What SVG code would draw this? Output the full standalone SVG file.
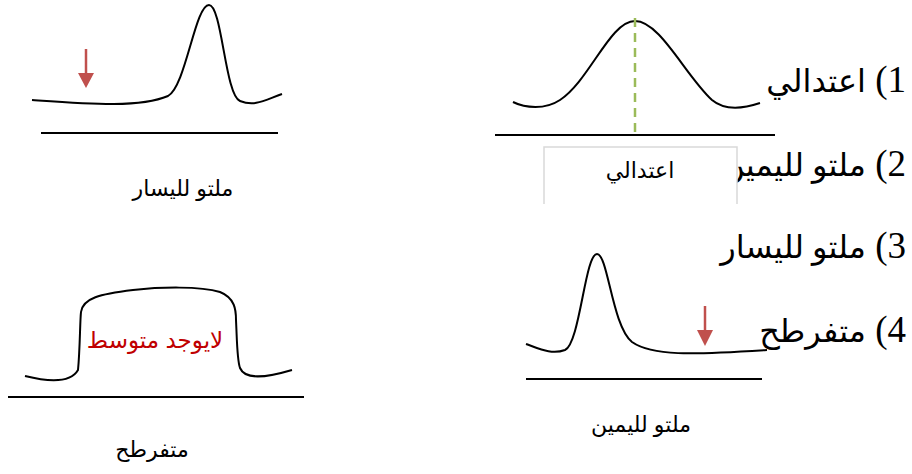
<svg xmlns="http://www.w3.org/2000/svg" width="912" height="474" viewBox="0 0 912 474">
<style>
.curve{fill:none;stroke:#000;stroke-width:2}
.axis{fill:none;stroke:#000;stroke-width:2}
.lbl{font-family:"Liberation Sans","DejaVu Sans",sans-serif;font-size:22px;fill:#000;text-anchor:middle}
.item{font-family:"Liberation Serif","DejaVu Serif","DejaVu Sans",serif;font-size:37px;fill:#000;direction:rtl;text-anchor:start}
.ar{font-size:32px}
.arrow{stroke:#C0504D;stroke-width:2.5;fill:none}
.head{fill:#C0504D}
</style>
<rect width="912" height="474" fill="#fff"/>
<g id="list">
<text class="item" x="906" y="92">1) <tspan class="ar">اعتدالي</tspan></text>
<text class="item" x="906" y="176">2) <tspan class="ar">ملتو لليمين</tspan></text>
<text class="item" x="906" y="258">3) <tspan class="ar">ملتو لليسار</tspan></text>
<text class="item" x="906" y="342">4) <tspan class="ar">متفرطح</tspan></text>
</g>
<g id="left-skew">
<line class="axis" x1="41" y1="133" x2="278" y2="133"/>
<path class="curve" d="M32,100 C90,104 140,108 168,96 C186,86 195,5 209,5 C222,5 225,95 240,101 C255,107 265,100 282,94"/>
<line class="arrow" x1="86" y1="49" x2="86" y2="76"/>
<polygon class="head" points="78,73 94,73 86,88"/>
<text class="lbl" x="183" y="196">ملتو لليسار</text>
</g>
<g id="normal">
<line class="axis" x1="495" y1="135" x2="775" y2="135"/>
<path class="curve" d="M513,102 C525,108 545,110 560,100 C590,80 610,21 635,21 C660,21 685,75 712,100 C725,111 745,108 760,103"/>
<line x1="635" y1="18" x2="635" y2="133" stroke="#9BBB59" stroke-width="2.5" stroke-dasharray="9,6"/>
</g>
<g id="box">
<rect x="544" y="147" width="193" height="57" fill="#fff"/>
<path d="M544,204 V147 H737 V204" fill="none" stroke="#d9d9d9" stroke-width="1.5"/>
<text class="lbl" x="640" y="178">اعتدالي</text>
</g>
<g id="platykurtic">
<line class="axis" x1="8" y1="397" x2="304" y2="397"/>
<path class="curve" d="M25,376 C45,381 70,384 78,370 C80,350 80,320 81,312 C83,298 100,294 133,290 C160,287 200,286 220,292 C235,298 236,310 236,320 C237,340 237,360 240,368 C245,380 265,378 292,370"/>
<text x="155" y="348" font-family="'Liberation Sans','DejaVu Sans',sans-serif" font-size="23" fill="#C00000" text-anchor="middle">لايوجد متوسط</text>
<text class="lbl" x="152" y="457" font-size="24">متفرطح</text>
</g>
<g id="right-skew">
<line class="axis" x1="526" y1="379" x2="762" y2="379"/>
<path class="curve" d="M526,344 C540,349 552,355 565,350 C580,343 585,254 597,254 C608,254 612,326 632,342 C652,356 690,355 767,350"/>
<line class="arrow" x1="705" y1="306" x2="705" y2="333"/>
<polygon class="head" points="697,330 713,330 705,346"/>
<text class="lbl" x="641" y="432">ملتو لليمين</text>
</g>
</svg>
